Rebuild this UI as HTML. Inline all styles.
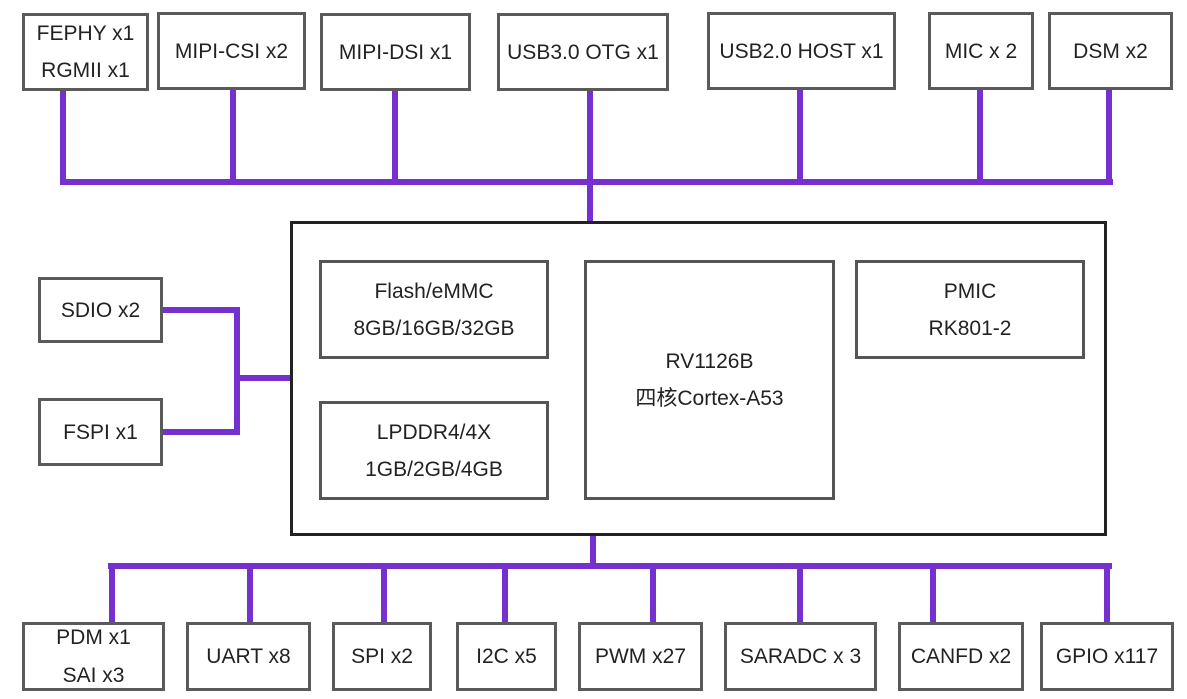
<!DOCTYPE html>
<html><head><meta charset="utf-8"><style>
body{margin:0;width:1187px;height:699px;background:#fff;position:relative;overflow:hidden;font-family:"Liberation Sans","Noto Sans CJK SC",sans-serif;color:#222}
.b{position:absolute;box-sizing:border-box;border:3px solid #5a5a5a;background:#fff;display:flex;flex-direction:column;align-items:center;justify-content:center;font-size:21px;line-height:37px;text-align:center;white-space:nowrap}
.i{border:3px solid #555}
.l{position:absolute;background:#7630d0}
</style></head><body>
<!-- top lines -->
<div class="l" style="left:60px;top:179px;width:1053px;height:6px"></div>
<div class="l" style="left:60px;top:90px;width:6px;height:95px"></div>
<div class="l" style="left:230px;top:90px;width:6px;height:95px"></div>
<div class="l" style="left:392px;top:90px;width:6px;height:95px"></div>
<div class="l" style="left:587px;top:90px;width:6px;height:131px"></div>
<div class="l" style="left:797px;top:90px;width:6px;height:95px"></div>
<div class="l" style="left:977px;top:90px;width:6px;height:95px"></div>
<div class="l" style="left:1106px;top:90px;width:6px;height:95px"></div>
<!-- left lines -->
<div class="l" style="left:162px;top:307px;width:78px;height:6px"></div>
<div class="l" style="left:162px;top:429px;width:78px;height:6px"></div>
<div class="l" style="left:234px;top:307px;width:6px;height:128px"></div>
<div class="l" style="left:234px;top:375px;width:57px;height:6px"></div>
<!-- bottom lines -->
<div class="l" style="left:590px;top:535px;width:6px;height:34px"></div>
<div class="l" style="left:108px;top:563px;width:1004px;height:6px"></div>
<div class="l" style="left:109px;top:563px;width:6px;height:60px"></div>
<div class="l" style="left:247px;top:563px;width:6px;height:60px"></div>
<div class="l" style="left:381px;top:563px;width:6px;height:60px"></div>
<div class="l" style="left:502px;top:563px;width:6px;height:60px"></div>
<div class="l" style="left:650px;top:563px;width:6px;height:60px"></div>
<div class="l" style="left:797px;top:563px;width:6px;height:60px"></div>
<div class="l" style="left:930px;top:563px;width:6px;height:60px"></div>
<div class="l" style="left:1104px;top:563px;width:6px;height:60px"></div>
<!-- top boxes -->
<div class="b" style="left:22px;top:13px;width:127px;height:78px"><div>FEPHY x1</div><div>RGMII x1</div></div>
<div class="b" style="left:157px;top:12px;width:149px;height:78px">MIPI-CSI x2</div>
<div class="b" style="left:320px;top:13px;width:151px;height:78px">MIPI-DSI x1</div>
<div class="b" style="left:497px;top:13px;width:172px;height:78px">USB3.0 OTG x1</div>
<div class="b" style="left:707px;top:12px;width:189px;height:78px">USB2.0 HOST x1</div>
<div class="b" style="left:928px;top:12px;width:106px;height:78px">MIC x 2</div>
<div class="b" style="left:1048px;top:12px;width:125px;height:78px">DSM x2</div>
<!-- main -->
<div class="b" style="left:290px;top:221px;width:817px;height:315px;border-color:#222"></div>
<div class="b i" style="left:319px;top:260px;width:230px;height:99px"><div>Flash/eMMC</div><div>8GB/16GB/32GB</div></div>
<div class="b i" style="left:319px;top:401px;width:230px;height:99px"><div>LPDDR4/4X</div><div>1GB/2GB/4GB</div></div>
<div class="b i" style="left:584px;top:260px;width:251px;height:240px"><div>RV1126B</div><div>四核Cortex-A53</div></div>
<div class="b i" style="left:855px;top:260px;width:230px;height:99px"><div>PMIC</div><div>RK801-2</div></div>
<!-- left boxes -->
<div class="b" style="left:38px;top:277px;width:125px;height:66px">SDIO x2</div>
<div class="b" style="left:38px;top:398px;width:125px;height:68px">FSPI x1</div>
<!-- bottom boxes -->
<div class="b" style="left:22px;top:622px;width:143px;height:69px;line-height:38px"><div>PDM x1</div><div>SAI x3</div></div>
<div class="b" style="left:186px;top:622px;width:125px;height:69px">UART x8</div>
<div class="b" style="left:332px;top:622px;width:100px;height:69px">SPI x2</div>
<div class="b" style="left:456px;top:622px;width:101px;height:69px">I2C x5</div>
<div class="b" style="left:578px;top:622px;width:125px;height:69px">PWM x27</div>
<div class="b" style="left:724px;top:622px;width:153px;height:69px">SARADC x 3</div>
<div class="b" style="left:898px;top:622px;width:126px;height:69px">CANFD x2</div>
<div class="b" style="left:1040px;top:622px;width:134px;height:69px">GPIO x117</div>
</body></html>
